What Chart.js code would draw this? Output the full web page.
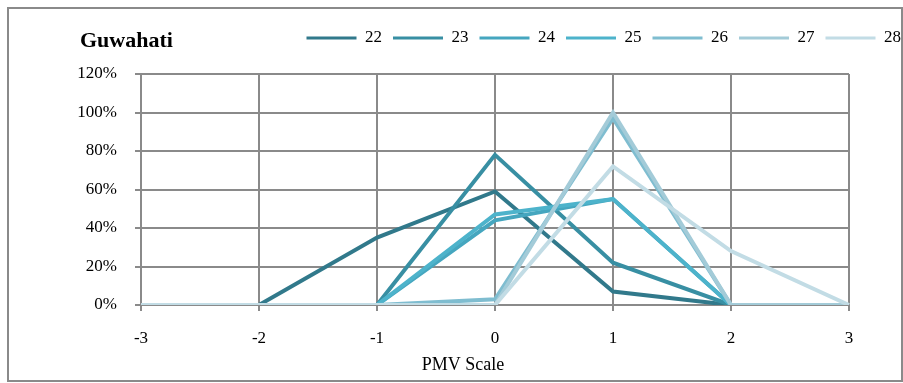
<!DOCTYPE html>
<html lang="en">
<head>
  <meta charset="UTF-8">
  <title>Guwahati</title>
  <script src="https://cdn.jsdelivr.net/npm/chart.js"></script>
  <style>
    body { margin: 0; background: #fff; }
    #wrap { width: 903px; height: 383px; }
  </style>
</head>
<body>
  <div id="wrap"><canvas id="pmvChart" width="903" height="383"></canvas></div>

  <script>
    // PMV scale categories
    const pmvLabels = ['-3', '-2', '-1', '0', '1', '2', '3'];

    // percentage of votes per series
    const s22 = [0, 0, 35, 59, 7, 0, 0];
    const s23 = [0, 0, 0, 78, 22, 0, 0];
    const s24 = [0, 0, 0, 44, 55, 0, 0];
    const s25 = [0, 0, 0, 47, 55, 0, 0];
    const s26 = [0, 0, 0, 3, 97, 0, 0];
    const s27 = [0, 0, 0, 0, 100, 0, 0];
    const s28 = [0, 0, 0, 0, 72, 28, 0];

    const seriesNames = ['22', '23', '24', '25', '26', '27', '28'];
    const seriesData = [s22, s23, s24, s25, s26, s27, s28];
    const seriesColors = ['#31798b', '#388fa3', '#45a6bf', '#4db3cb', '#7fbdd0', '#a3cbd8', '#c2dce5'];

    const gridGray = '#8a8a8a';
    const serif = 'Liberation Serif';

    const datasets = seriesNames.map((name, i) => ({
      label: name,
      data: seriesData[i],
      borderColor: seriesColors[i],
      backgroundColor: seriesColors[i],
      borderWidth: 4,
      pointRadius: 0,
      tension: 0,
      fill: false,
      order: seriesNames.length - i   // later series drawn on top, like Excel
    }));

    const decor = {
      id: 'decor',
      beforeDraw(chart) {
        const c = chart.ctx;
        c.save();
        c.fillStyle = '#fff';
        c.fillRect(0, 0, chart.width, chart.height);
        c.strokeStyle = gridGray;
        c.lineWidth = 2;
        c.strokeRect(8, 8, 894, 373);
        c.restore();
      },
      afterLayout(chart) {
        // nudge legend right to sit where the original has it
        chart.legend.left += 9;
        chart.legend.right += 9;
        chart.legend.top += 1;
      },
      afterDraw(chart) {
        const c = chart.ctx;
        c.save();
        c.fillStyle = '#000';
        c.textBaseline = 'middle';
        c.font = 'bold 22px "' + serif + '"';
        c.textAlign = 'left';
        c.fillText('Guwahati', 80, 41);
        c.font = '18px "' + serif + '"';
        c.textAlign = 'center';
        c.fillText('PMV Scale', 463, 365);
        c.restore();
      }
    };

    new Chart(document.getElementById('pmvChart'), {
      type: 'line',
      data: { labels: pmvLabels, datasets: datasets },
      plugins: [decor],
      options: {
        responsive: false,
        animation: false,
        layout: { padding: { top: 17.5, left: 0, right: 0, bottom: 0 } },
        plugins: {
          tooltip: { enabled: false },
          legend: {
            position: 'top',
            align: 'end',
            labels: {
              usePointStyle: true,
              pointStyle: 'line',
              pointStyleWidth: 50,
              padding: 11,
              color: '#000',
              font: { family: serif, size: 17 },
              sort: (a, b) => a.datasetIndex - b.datasetIndex,
              generateLabels: chart =>
                Chart.defaults.plugins.legend.labels.generateLabels(chart)
                  .map(item => Object.assign(item, { lineWidth: 3 }))
            }
          }
        },
        scales: {
          x: {
            position: 'bottom',
            offset: false,
            afterFit: s => { s.height = 78; },
            grid: { color: gridGray, lineWidth: 2, tickLength: 6 },
            border: { color: gridGray, width: 2 },
            ticks: {
              color: '#000',
              font: { family: serif, size: 17 },
              padding: 17,
              maxRotation: 0,
              autoSkip: false
            }
          },
          xTop: {
            type: 'category',
            position: 'top',
            afterFit: s => { s.height = 18.5; },
            grid: { display: false },
            border: { display: false },
            ticks: { display: false }
          },
          y: {
            position: 'left',
            min: 0,
            max: 120,
            afterFit: s => { s.width = 141; },
            grid: { color: gridGray, lineWidth: 2, tickLength: 6 },
            border: { color: gridGray, width: 2 },
            ticks: {
              stepSize: 20,
              color: '#000',
              font: { family: serif, size: 17 },
              padding: 18,
              callback: v => v + '%'
            }
          },
          yRight: {
            type: 'linear',
            position: 'right',
            afterFit: s => { s.width = 54; },
            grid: { display: false },
            border: { display: false },
            ticks: { display: false }
          }
        }
      }
    });
  </script>
</body>
</html>
